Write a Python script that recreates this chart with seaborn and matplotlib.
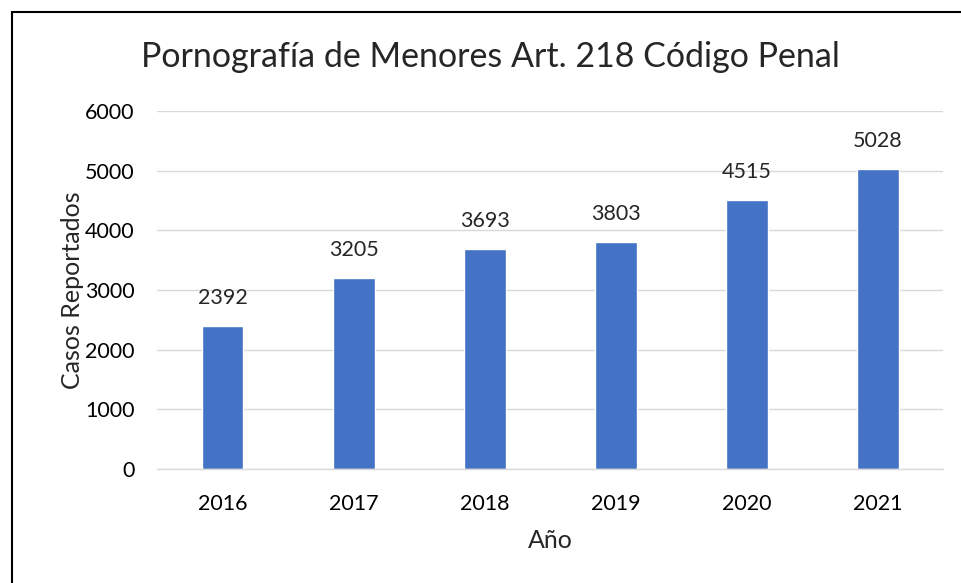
import matplotlib
matplotlib.use("Agg")
import matplotlib.pyplot as plt
from matplotlib.lines import Line2D
import seaborn as sns
import pandas as pd

# 数据
anios = ["2016", "2017", "2018", "2019", "2020", "2021"]
casos = [2392, 3205, 3693, 3803, 4515, 5028]
titulo = "Pornografía de Menores Art. 218 Código Penal"

df = pd.DataFrame({"anio": anios, "casos": casos})

sns.set_theme(style="white")
plt.rcParams['font.family'] = ['Lato', 'DejaVu Sans']

fig = plt.figure(figsize=(9.61, 5.83), dpi=100)
ax = fig.add_axes([0.1634, 0.1955, 0.818, 0.614])

sns.barplot(data=df, x="anio", y="casos", color="#4472C4", width=0.32,
            saturation=1, ax=ax)

ax.set_ylim(0, 6000)
ax.set_yticks(range(0, 6001, 1000))
ax.yaxis.grid(True, color="#D9D9D9", linewidth=1)
ax.set_axisbelow(True)
for s in ["top", "right", "left"]:
    ax.spines[s].set_visible(False)
ax.spines["bottom"].set_color("#D9D9D9")
ax.spines["bottom"].set_linewidth(1)
ax.tick_params(axis="both", length=0, labelsize=15.5, colors="black")
ax.tick_params(axis="y", pad=16)
ax.tick_params(axis="x", pad=18)

ax.bar_label(ax.containers[0], fmt="%d", padding=13, fontsize=15.5)

ax.set_xlabel("Año", fontsize=18, labelpad=11)
ax.set_ylabel("Casos Reportados", fontsize=18, labelpad=1)
fig.text(0.51, 0.902, titulo, ha="center", va="center", fontsize=24.5)

# 边框（左、上）
fig.add_artist(Line2D([12/961, 12/961], [0, 1 - 12/583], color="black", linewidth=1.5))
fig.add_artist(Line2D([12/961, 1], [1 - 12/583, 1 - 12/583], color="black", linewidth=1.5))

fig.savefig("out.png", dpi=100)
